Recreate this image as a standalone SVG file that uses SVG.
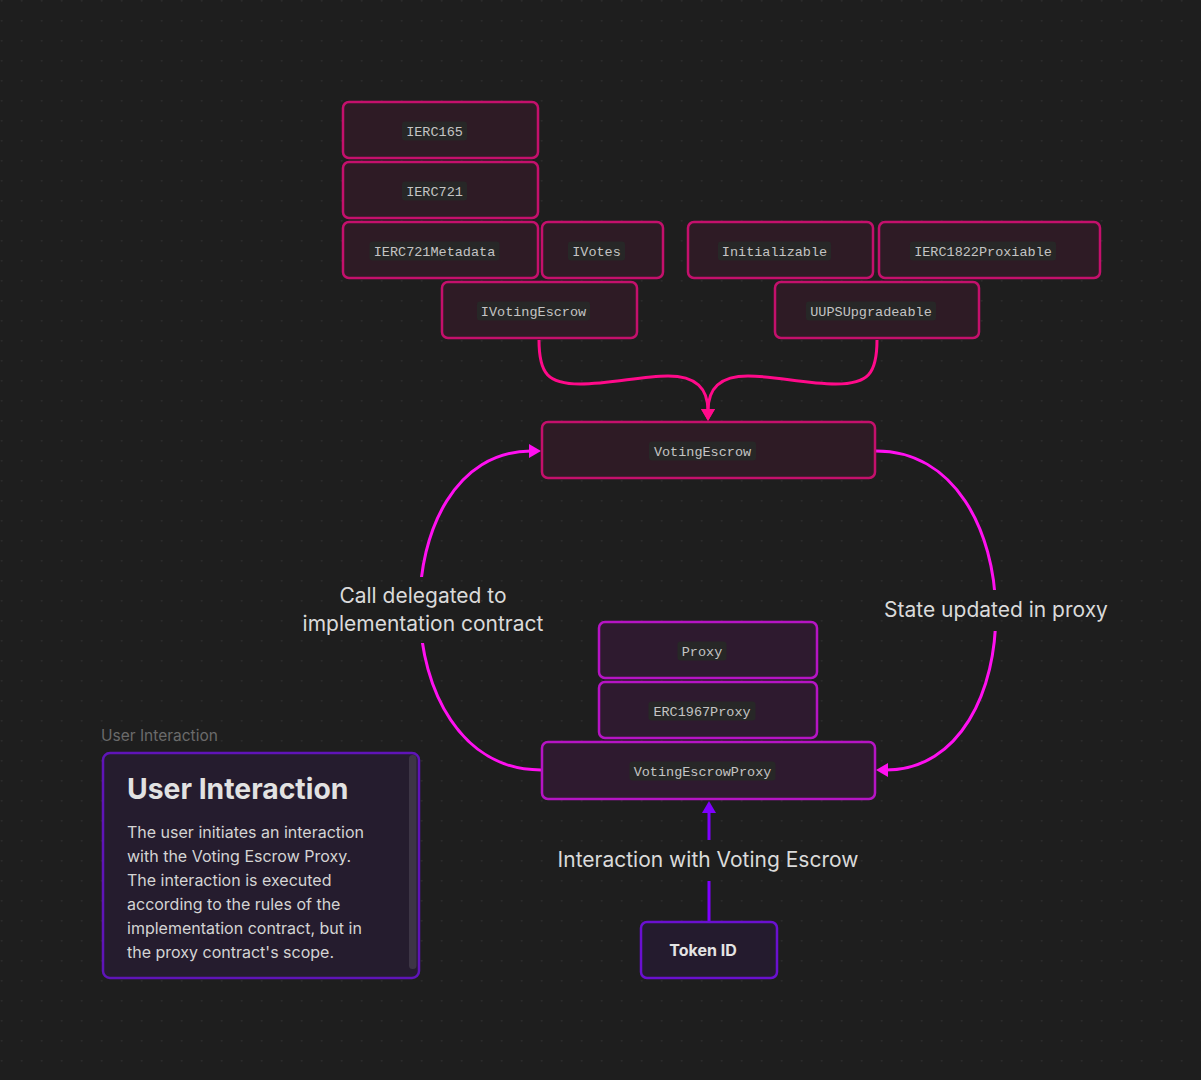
<svg xmlns="http://www.w3.org/2000/svg" width="1201" height="1080" viewBox="0 0 1201 1080">
<defs>
<pattern id="dots" x="0" y="0" width="20" height="20" patternUnits="userSpaceOnUse">
<circle cx="1.7" cy="0.8" r="1" fill="#2b2b2b"/>
</pattern>
<marker id="arrPink" viewBox="0 0 12 14" refX="2" refY="7" markerWidth="12" markerHeight="14" markerUnits="userSpaceOnUse" orient="auto"><path d="M0,0 L12,7 L0,14 z" fill="#ff0a8a"/></marker>
<marker id="arrMag" viewBox="0 0 12 14" refX="2" refY="7" markerWidth="12" markerHeight="14" markerUnits="userSpaceOnUse" orient="auto"><path d="M0,0 L12,7 L0,14 z" fill="#ff10f0"/></marker>
<marker id="arrPur" viewBox="0 0 12 14" refX="2" refY="7" markerWidth="12" markerHeight="14" markerUnits="userSpaceOnUse" orient="auto"><path d="M0,0 L12,7 L0,14 z" fill="#7f00ff"/></marker>
<mask id="gapL" maskUnits="userSpaceOnUse" x="0" y="0" width="1201" height="1080">
<rect x="0" y="0" width="1201" height="1080" fill="#fff"/>
<rect x="395" y="577" width="55" height="66" fill="#000"/>
</mask>
<mask id="gapR" maskUnits="userSpaceOnUse" x="0" y="0" width="1201" height="1080">
<rect x="0" y="0" width="1201" height="1080" fill="#fff"/>
<rect x="970" y="590" width="50" height="41" fill="#000"/>
</mask>
</defs>
<style>
.bg{fill:#1e1e1e}
.n{fill:#2e1b25;stroke:#c4106c;stroke-width:2.5}
.np{fill:#2e1a2f;stroke:#b614c4;stroke-width:2.5}
.nt{fill:#241b2e;stroke:#6a10d0;stroke-width:2.5}
.cb{fill:#272727}
.mono{font-family:"Liberation Mono","DejaVu Sans Mono",monospace;font-size:13.5px;fill:#c4c4c4;text-anchor:middle}
.lbl{font-family:Inter,"Liberation Sans",sans-serif;font-size:21px;fill:#dadada;text-anchor:middle}
.cP{fill:none;stroke:#ff0a8a;stroke-width:3}
.cM{fill:none;stroke:#ff10f0;stroke-width:3}
.cU{fill:none;stroke:#7f00ff;stroke-width:3}
</style>
<rect class="bg" x="0" y="0" width="1201" height="1080"/>
<rect x="0" y="0" width="1201" height="1080" fill="url(#dots)"/>

<g id="connectors">
<path class="cP" d="M539,340 C539,374 548,384 580,384 C612,384 640,376 668,376 C696,376 708,388 708,411" marker-end="url(#arrPink)"/>
<path class="cP" d="M877,340 C877,374 868,384 836,384 C804,384 776,376 748,376 C720,376 708,388 708,411" marker-end="url(#arrPink)"/>
<path class="cM" d="M541,770 C381,770 381,451 531,451" mask="url(#gapL)" marker-end="url(#arrMag)"/>
<path class="cM" d="M876,451 C1034,451 1034,770 886,770" mask="url(#gapR)" marker-end="url(#arrMag)"/>
<path class="cU" d="M709,921 L709,881"/>
<path class="cU" d="M709,840 L709,811" marker-end="url(#arrPur)"/>
<text class="lbl" x="423" y="603">Call delegated to</text>
<text class="lbl" x="423" y="631">implementation contract</text>
<text class="lbl" x="996" y="617">State updated in proxy</text>
<text class="lbl" x="708" y="867">Interaction with Voting Escrow</text>
</g>

<g id="IERC165"><rect class="n" x="343" y="102" width="195" height="56" rx="6"/><rect class="cb" x="402" y="121.5" width="65" height="19" rx="3"/><text class="mono" x="434.5" y="135.5">IERC165</text></g>
<g id="IERC721"><rect class="n" x="343" y="162" width="195" height="56" rx="6"/><rect class="cb" x="402" y="181.5" width="65" height="19" rx="3"/><text class="mono" x="434.5" y="195.5">IERC721</text></g>
<g id="IERC721Metadata"><rect class="n" x="343" y="222" width="195" height="56" rx="6"/><rect class="cb" x="369.5" y="241.5" width="130" height="19" rx="3"/><text class="mono" x="434.5" y="255.5">IERC721Metadata</text></g>
<g id="IVotes"><rect class="n" x="542" y="222" width="121" height="56" rx="6"/><rect class="cb" x="568" y="241.5" width="57" height="19" rx="3"/><text class="mono" x="596.5" y="255.5">IVotes</text></g>
<g id="IVotingEscrow"><rect class="n" x="442" y="282" width="195" height="56" rx="6"/><rect class="cb" x="477" y="301.5" width="113" height="19" rx="3"/><text class="mono" x="533.5" y="315.5">IVotingEscrow</text></g>
<g id="Initializable"><rect class="n" x="688" y="222" width="185" height="56" rx="6"/><rect class="cb" x="718" y="241.5" width="113" height="19" rx="3"/><text class="mono" x="774.5" y="255.5">Initializable</text></g>
<g id="IERC1822Proxiable"><rect class="n" x="879" y="222" width="221" height="56" rx="6"/><rect class="cb" x="910" y="241.5" width="146" height="19" rx="3"/><text class="mono" x="983" y="255.5">IERC1822Proxiable</text></g>
<g id="UUPSUpgradeable"><rect class="n" x="775" y="282" width="204" height="56" rx="6"/><rect class="cb" x="806" y="301.5" width="130" height="19" rx="3"/><text class="mono" x="871" y="315.5">UUPSUpgradeable</text></g>
<g id="VotingEscrow"><rect class="n" x="542" y="422" width="333" height="56" rx="6"/><rect class="cb" x="649" y="441.5" width="107" height="19" rx="3"/><text class="mono" x="702.5" y="455.5">VotingEscrow</text></g>
<g id="Proxy"><rect class="np" x="599" y="622" width="218" height="56" rx="6"/><rect class="cb" x="677.5" y="641.5" width="49" height="19" rx="3"/><text class="mono" x="702" y="655.5">Proxy</text></g>
<g id="ERC1967Proxy"><rect class="np" x="599" y="682" width="218" height="56" rx="6"/><rect class="cb" x="648.5" y="701.5" width="107" height="19" rx="3"/><text class="mono" x="702" y="715.5">ERC1967Proxy</text></g>
<g id="VotingEscrowProxy"><rect class="np" x="542" y="742" width="333" height="57" rx="6"/><rect class="cb" x="629.5" y="761.5" width="146" height="19" rx="3"/><text class="mono" x="702.5" y="775.5">VotingEscrowProxy</text></g>
<g id="TokenID"><rect class="nt" x="641" y="922" width="136" height="56" rx="6"/><text x="703" y="956" font-family="Inter,'Liberation Sans',sans-serif" font-size="16" font-weight="bold" fill="#e4e4e4" text-anchor="middle">Token ID</text></g>

<g id="UserInteraction">
<text x="101" y="741" font-family="Inter,'Liberation Sans',sans-serif" font-size="15.5" fill="#6b6b6b">User Interaction</text>
<rect x="103" y="753" width="316" height="225" rx="7" fill="#251c2e" stroke="#5f14b8" stroke-width="2.5"/>
<rect x="409" y="755" width="7.5" height="214" rx="3.5" fill="#3d3545"/>
<text x="127" y="799" font-family="Inter,'Liberation Sans',sans-serif" font-size="28.3" font-weight="bold" fill="#e2e2e2">User Interaction</text>
<g font-family="Inter,'Liberation Sans',sans-serif" font-size="16" fill="#d4d4d4">
<text x="127" y="838">The user initiates an interaction</text>
<text x="127" y="862">with the Voting Escrow Proxy.</text>
<text x="127" y="886">The interaction is executed</text>
<text x="127" y="910">according to the rules of the</text>
<text x="127" y="934">implementation contract, but in</text>
<text x="127" y="958">the proxy contract's scope.</text>
</g>
</g>
</svg>
